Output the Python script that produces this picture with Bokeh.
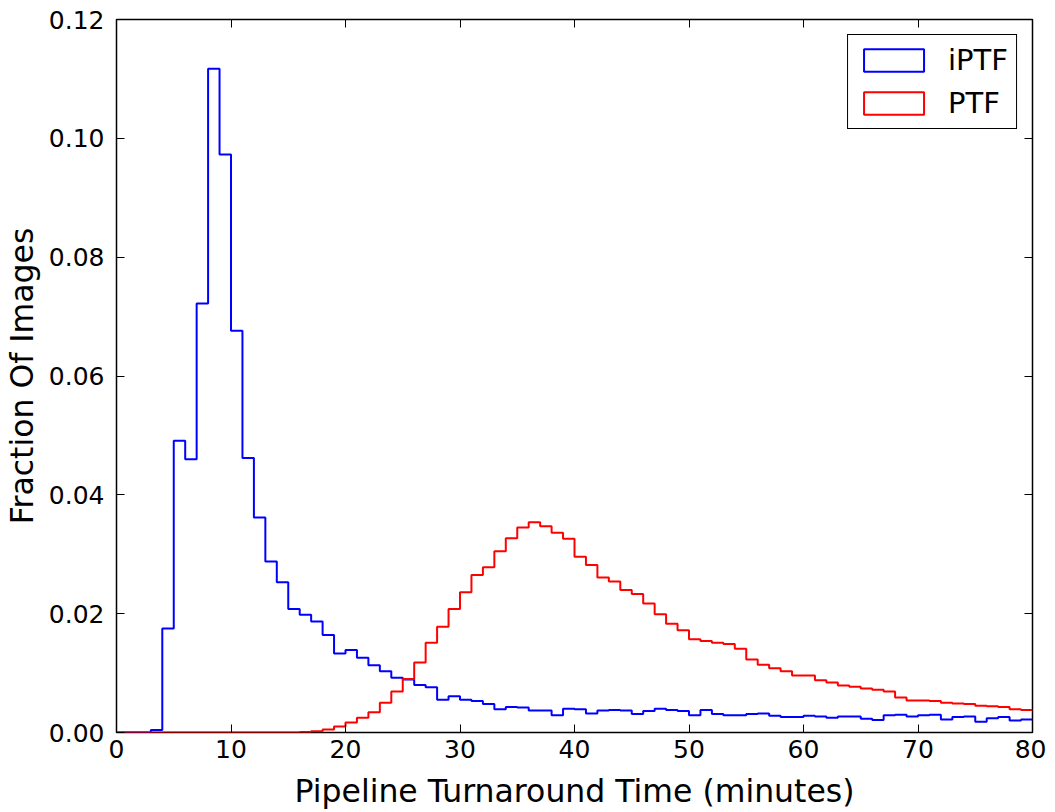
from bokeh.plotting import figure
from bokeh.models import (LinearAxis, Range1d, FixedTicker, NumeralTickFormatter,
                          Legend, LegendItem)
from bokeh.embed import file_html
from bokeh.resources import INLINE

# Histogram bin edges (minutes), 1-minute bins from 0 to 80
bin_edges = list(range(0, 81))

# iPTF: fraction of images per 1-minute bin
iptf = [0, 0, 0, 0.0004, 0.0175, 0.0491, 0.0460, 0.0722, 0.1117, 0.0973,
        0.0676, 0.0462, 0.0362, 0.0288, 0.0253, 0.0208, 0.0198, 0.0187, 0.0164, 0.0133,
        0.0139, 0.0126, 0.0113, 0.0103, 0.0092, 0.0089, 0.0080, 0.0076, 0.0055, 0.0061,
        0.0055, 0.0053, 0.0048, 0.0039, 0.0043, 0.0042, 0.0037, 0.0037, 0.0029, 0.0040,
        0.0039, 0.0032, 0.0037, 0.0038, 0.0037, 0.0031, 0.0036, 0.0040, 0.0038, 0.0036,
        0.0029, 0.0038, 0.0031, 0.0029, 0.0029, 0.0031, 0.0032, 0.0028, 0.0026, 0.0026,
        0.0028, 0.0027, 0.0025, 0.0027, 0.0027, 0.0023, 0.0021, 0.0029, 0.0030, 0.0027,
        0.0029, 0.0030, 0.0022, 0.0026, 0.0027, 0.0018, 0.0024, 0.0026, 0.0020, 0.0022]

# PTF: fraction of images per 1-minute bin
ptf = [0, 0, 0, 0, 0, 0, 0, 0, 0, 0,
       0, 0, 0, 0, 0, 0, 0.0001, 0.0002, 0.0005, 0.0010,
       0.0017, 0.0025, 0.0034, 0.0050, 0.0069, 0.0090, 0.0118, 0.0151, 0.0178, 0.0208,
       0.0236, 0.0265, 0.0278, 0.0305, 0.0327, 0.0345, 0.0354, 0.0347, 0.0336, 0.0326,
       0.0296, 0.0282, 0.0261, 0.0254, 0.0240, 0.0233, 0.0217, 0.0199, 0.0183, 0.0172,
       0.0157, 0.0154, 0.0151, 0.0149, 0.0141, 0.0123, 0.0114, 0.0108, 0.0103, 0.0096,
       0.0096, 0.0088, 0.0084, 0.0079, 0.0077, 0.0074, 0.0072, 0.0069, 0.0059, 0.0054,
       0.0054, 0.0053, 0.0050, 0.0049, 0.0048, 0.0045, 0.0044, 0.0043, 0.0039, 0.0038]

x_ticks = [0, 10, 20, 30, 40, 50, 60, 70, 80]
y_ticks = [0.00, 0.02, 0.04, 0.06, 0.08, 0.10, 0.12]

FONT = "DejaVu Sans"
NAN = float("nan")

p = figure(frame_width=916, frame_height=713,
           x_range=Range1d(0, 80), y_range=Range1d(0, 0.12),
           output_backend="svg", toolbar_location=None,
           min_border_left=109, min_border_right=14,
           min_border_top=19, min_border_bottom=60)

p.xgrid.visible = False
p.ygrid.visible = False
p.outline_line_color = "black"
p.outline_line_width = 1.5
p.outline_line_alpha = 1.0
p.background_fill_color = "white"
p.border_fill_color = "white"

# bottom / left axes
p.xaxis.ticker = FixedTicker(ticks=x_ticks)
p.yaxis.ticker = FixedTicker(ticks=y_ticks)
p.yaxis.formatter = NumeralTickFormatter(format="0.00")
for ax in (p.xaxis[0], p.yaxis[0]):
    ax.axis_line_color = None
    ax.major_tick_in = 8
    ax.major_tick_out = 0
    ax.major_tick_line_color = "black"
    ax.major_tick_line_width = 1
    ax.minor_tick_line_color = None
    ax.major_label_text_font = FONT
    ax.major_label_text_font_size = "25px"
    ax.major_label_text_color = "black"
    ax.axis_label_text_font = FONT
    ax.axis_label_text_font_size = "31.5px"
    ax.axis_label_text_font_style = "normal"
    ax.axis_label_text_color = "black"
p.xaxis.major_label_standoff = 7
p.yaxis.major_label_standoff = 12
p.xaxis.axis_label = "Pipeline Turnaround Time (minutes)"
p.yaxis.axis_label = "Fraction Of Images"
p.xaxis.axis_label_standoff = 12
p.yaxis.axis_label_standoff = 6

# top / right axes with inward ticks only
for side, ticks in (("above", x_ticks), ("right", y_ticks)):
    ax = LinearAxis(ticker=FixedTicker(ticks=ticks),
                    major_label_text_font_size="0px",
                    major_label_standoff=0,
                    axis_line_color=None,
                    major_tick_in=8, major_tick_out=0,
                    major_tick_line_color="black",
                    minor_tick_line_color=None)
    p.add_layout(ax, side)

# histograms as steps
iptf_y = iptf + [iptf[-1]]
ptf_y = ptf + [ptf[-1]]
p.step(x=bin_edges, y=iptf_y, mode="after", line_color="#0000ff", line_width=2)
p.step(x=bin_edges, y=ptf_y, mode="after", line_color="#ff0000", line_width=2)

# legend proxies (unfilled rectangles; NaN data so nothing is drawn in the plot)
rb = p.quad(left=[NAN], right=[NAN], top=[NAN], bottom=[NAN], fill_color=None,
            line_color="#0000ff", line_width=2)
rr = p.quad(left=[NAN], right=[NAN], top=[NAN], bottom=[NAN], fill_color=None,
            line_color="#ff0000", line_width=2)
legend = Legend(items=[LegendItem(label="iPTF", renderers=[rb]),
                       LegendItem(label="PTF", renderers=[rr])],
                location="top_right", margin=15, padding=8, spacing=9,
                glyph_width=75, glyph_height=28, label_standoff=17,
                label_text_font=FONT, label_text_font_size="29px",
                label_text_color="black",
                border_line_color="black", border_line_width=1.5,
                border_line_alpha=1.0,
                background_fill_color="white", background_fill_alpha=1.0)
p.add_layout(legend)

open("out.html", "w").write(file_html(p, INLINE))
